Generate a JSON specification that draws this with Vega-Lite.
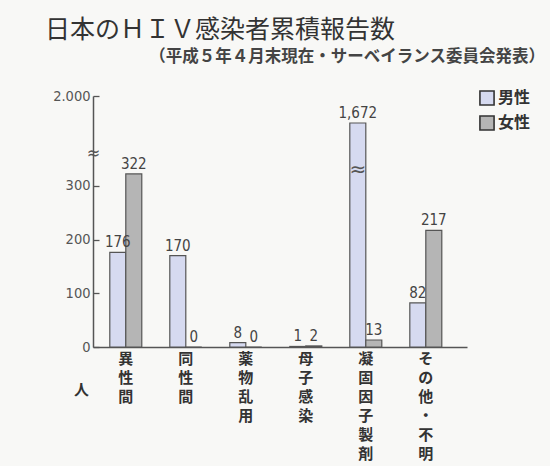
{
  "$schema": "https://vega.github.io/schema/vega-lite/v6.json",
  "background": "#f8f8f6",
  "padding": {"left": 45, "top": 17, "right": 5, "bottom": 5},
  "config": {
    "view": {"stroke": null},
    "font": "Noto Sans CJK JP"
  },
  "title": {
    "text": "日本のＨＩＶ感染者累積報告数",
    "anchor": "start",
    "frame": "group",
    "dx": -48,
    "font": "Noto Sans CJK JP",
    "fontSize": 25,
    "fontWeight": "normal",
    "color": "#333333",
    "offset": 6
  },
  "vconcat": [
    {
      "title": {
        "text": "（平成５年４月末現在・サーベイランス委員会発表）",
        "anchor": "end",
        "frame": "group",
        "dx": 78,
        "font": "Noto Sans CJK JP",
        "fontSize": 16.5,
        "fontWeight": "bold",
        "color": "#444444",
        "offset": 11
      },
      "width": 374,
      "height": 271,
      "data": {
        "values": [
          {"route": "異性間", "sex": "男性", "count": 176},
          {"route": "異性間", "sex": "女性", "count": 322},
          {"route": "同性間", "sex": "男性", "count": 170},
          {"route": "同性間", "sex": "女性", "count": 0},
          {"route": "薬物乱用", "sex": "男性", "count": 8},
          {"route": "薬物乱用", "sex": "女性", "count": 0},
          {"route": "母子感染", "sex": "男性", "count": 1},
          {"route": "母子感染", "sex": "女性", "count": 2},
          {"route": "凝固因子製剤", "sex": "男性", "count": 1672},
          {"route": "凝固因子製剤", "sex": "女性", "count": 13},
          {"route": "その他・不明", "sex": "男性", "count": 82},
          {"route": "その他・不明", "sex": "女性", "count": 217}
        ]
      },
      "encoding": {
        "x": {
          "field": "route",
          "type": "nominal",
          "sort": null,
          "scale": {"paddingInner": 0.467, "paddingOuter": 0.35, "align": 0.4},
          "axis": {
            "title": null,
            "labelAngle": 0,
            "labelExpr": "split(datum.label, '')",
            "labelFont": "Noto Sans CJK JP",
            "labelFontSize": 15,
            "labelFontWeight": "bold",
            "labelColor": "#333333",
            "labelLineHeight": 19,
            "labelBaseline": "top",
            "labelPadding": 4,
            "ticks": false,
            "domainColor": "#555555",
            "domainWidth": 1.5
          }
        },
        "xOffset": {"field": "sex", "type": "nominal", "sort": ["男性", "女性"]}
      },
      "layer": [
        {
          "mark": {"type": "bar", "stroke": "#555555", "strokeWidth": 1.2},
          "encoding": {
            "y": {
              "field": "count",
              "type": "quantitative",
              "scale": {"domain": [0, 361, 1308, 2000], "range": [271, 77, 77, 20], "nice": false, "zero": false},
              "axis": {
                "values": [0, 100, 200, 300, 361, 2000],
                "labelExpr": "datum.value == 361 ? '≈' : (datum.value == 2000 ? '2.000' : datum.label)",
                "labelFont": "DejaVu Sans Condensed",
                "labelColor": "#555555",
                "tickSize": -6,
                "tickColor": "#555555",
                "tickWidth": 1.3,
                "tickOpacity": {"condition": {"test": "datum.value == 361", "value": 0}, "value": 1},
                "labelPadding": {"condition": {"test": "datum.value == 361", "value": 6}, "value": 9},
                "labelAlign": {"condition": {"test": "datum.value == 361", "value": "center"}, "value": "right"},
                "labelFontSize": {"condition": {"test": "datum.value == 361", "value": 18}, "value": 14.5},
                "grid": false,
                "domainColor": "#555555",
                "domainWidth": 1.5,
                "title": "人",
                "titleAngle": 0,
                "titleX": -12,
                "titleY": 313,
                "titleAlign": "center",
                "titleBaseline": "middle",
                "titleFont": "Noto Sans CJK JP",
                "titleFontSize": 15,
                "titleFontWeight": "bold",
                "titleColor": "#333333"
              }
            },
            "fill": {
              "field": "sex",
              "type": "nominal",
              "sort": ["男性", "女性"],
              "scale": {"domain": ["男性", "女性"], "range": ["#d6daf0", "#b5b5b5"]},
              "legend": {
                "title": null,
                "orient": "none",
                "legendX": 386,
                "legendY": 14,
                "padding": 0,
                "symbolType": "square",
                "symbolSize": 200,
                "symbolStrokeColor": "#333333",
                "symbolStrokeWidth": 1.6,
                "labelFont": "Noto Sans CJK JP",
                "labelFontSize": 16,
                "labelFontWeight": "bold",
                "labelColor": "#333333",
                "labelOffset": 3,
                "rowPadding": 3
              }
            }
          }
        },
        {
          "mark": {"type": "text", "baseline": "bottom", "dy": -2, "font": "DejaVu Sans Condensed", "fontSize": 15, "color": "#444444"},
          "encoding": {
            "y": {"field": "count", "type": "quantitative"},
            "text": {"field": "count", "type": "quantitative", "format": ","}
          }
        },
        {
          "data": {"values": [{"route": "凝固因子製剤", "sex": "男性", "brk": 330}]},
          "mark": {"type": "text", "baseline": "middle", "fontSize": 20, "color": "#555555", "font": "DejaVu Sans"},
          "encoding": {
            "y": {"field": "brk", "type": "quantitative"},
            "text": {"value": "≈"}
          }
        }
      ]
    }
  ]
}
